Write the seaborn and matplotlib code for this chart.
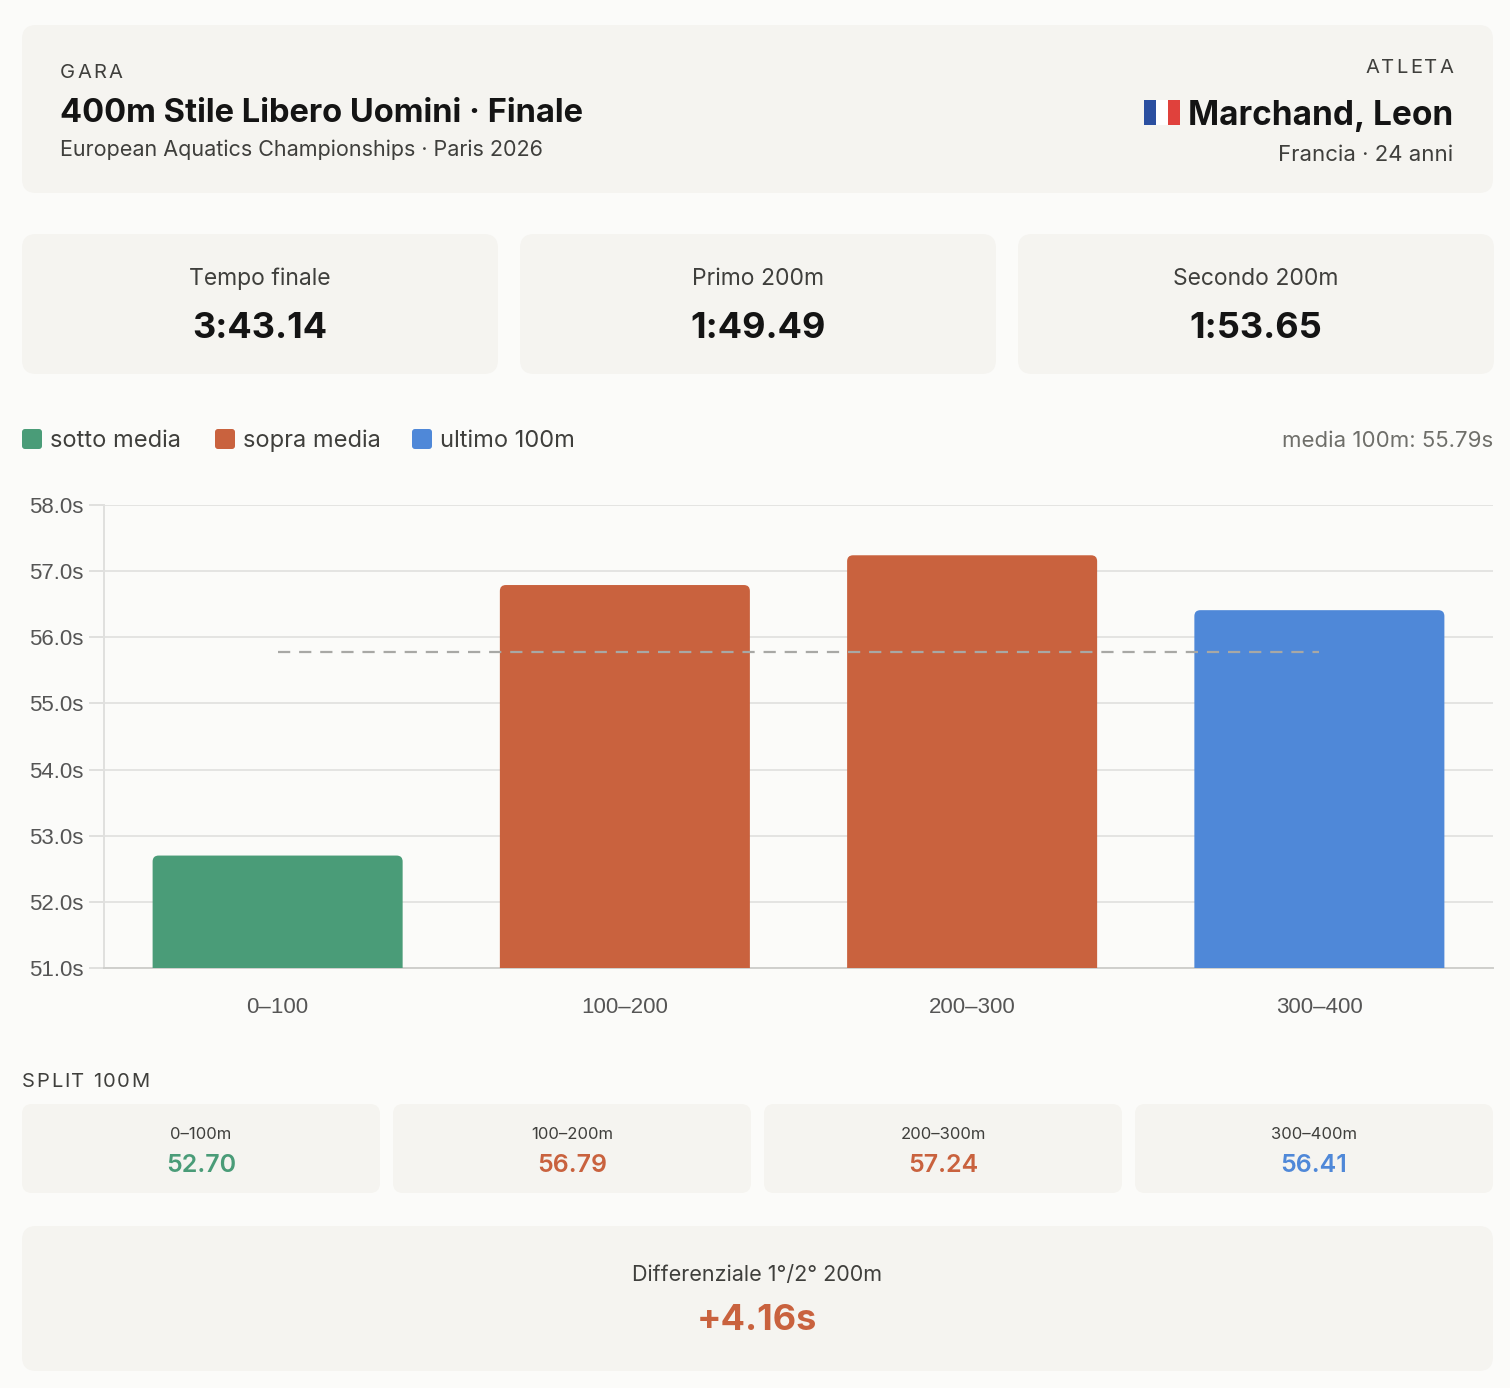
import numpy as np
import pandas as pd
import matplotlib
matplotlib.use("Agg")
import matplotlib.pyplot as plt
from matplotlib.patches import FancyBboxPatch, Rectangle
import seaborn as sns

# dati della gara
tratti = ["0–100", "100–200", "200–300", "300–400"]
tratti_card = ["0–100m", "100–200m", "200–300m", "300–400m"]
split = [52.70, 56.79, 57.24, 56.41]
tipo = ["sotto media", "sopra media", "sopra media", "ultimo 100m"]
y_ticks = [51.0, 52.0, 53.0, 54.0, 55.0, 56.0, 57.0, 58.0]

palette = {"sotto media": "#4a9c78", "sopra media": "#c9623e", "ultimo 100m": "#4f88d8"}
BG = "#fbfbf9"
CARD = "#f5f4f0"
DARK = "#141414"
MID = "#3f3f3c"
GREY = "#6f6f6a"

sns.set_theme(style="white")
plt.rcParams["font.family"] = ["Inter", "DejaVu Sans"]

df = pd.DataFrame({"tratto": tratti, "tempo": split, "tipo": tipo})
media = np.mean(split)
totale = sum(split)
primo = split[0] + split[1]
secondo = split[2] + split[3]


def fmt_min(s):
    m = int(s // 60)
    return "%d:%05.2f" % (m, s - 60 * m)


W, H = 1510, 1388
fig = plt.figure(figsize=(W / 100, H / 100), dpi=100, facecolor=BG)
renderer = fig.canvas.get_renderer()

# layer di sfondo in coordinate pixel
bg = fig.add_axes([0, 0, 1, 1], zorder=0)
bg.set_xlim(0, W)
bg.set_ylim(H, 0)
bg.axis("off")


def card(x0, y0, x1, y1, r=14):
    bg.add_patch(FancyBboxPatch((x0 + r, y0 + r), x1 - x0 - 2 * r, y1 - y0 - 2 * r,
                                boxstyle="round,pad=%d,rounding_size=%d" % (r, r),
                                fc=CARD, ec="none"))


def txt(x, y, s, size, color=MID, weight="normal", ha="left", **kw):
    return bg.text(x, y, s, fontsize=size, color=color, fontweight=weight, ha=ha,
                   va="baseline", **kw)


def spaced(x, y, s, size, track, color=MID, ha="left"):
    # testo con spaziatura tra lettere
    widths = []
    for ch in s:
        t = txt(0, y, ch, size, color)
        widths.append(t.get_window_extent(renderer).width)
        t.remove()
    total = sum(widths) + track * (len(s) - 1)
    cx = x - total if ha == "right" else x
    for ch, w in zip(s, widths):
        txt(cx, y, ch, size, color)
        cx += w + track


# intestazione
card(22, 25, 1493, 193)
spaced(60, 78, "GARA", 14.5, 2.2)
txt(60, 122, "400m Stile Libero Uomini · Finale", 23.5, DARK, "bold")
txt(60, 156, "European Aquatics Championships · Paris 2026", 15.5, MID)
spaced(1453, 73, "ATLETA", 14.5, 2.0, ha="right")
txt(1453, 125, "Marchand, Leon", 24, DARK, "bold", ha="right")
txt(1453, 161, "Francia · 24 anni", 16, MID, ha="right")
for i, c in enumerate(["#2b4fa0", "#ffffff", "#e0413c"]):
    bg.add_patch(Rectangle((1144 + i * 12, 100), 12, 25, fc=c, ec="none"))

# tre riquadri tempi
stats = [("Tempo finale", fmt_min(totale)), ("Primo 200m", fmt_min(primo)),
         ("Secondo 200m", fmt_min(secondo))]
for i, (lab, val) in enumerate(stats):
    x0 = 22 + i * 498
    card(x0, 234, x0 + 476, 374)
    cx = x0 + 238
    txt(cx, 285, lab, 16.5, MID, ha="center")
    txt(cx, 338, val, 26, DARK, "bold", ha="center")

# legenda
for x, lab in zip([22, 215, 412], ["sotto media", "sopra media", "ultimo 100m"]):
    bg.add_patch(FancyBboxPatch((x + 3, 429 + 3), 14, 14,
                                boxstyle="round,pad=3,rounding_size=3",
                                fc=palette[lab], ec="none"))
    txt(x + 28, 447, lab, 17, MID)
txt(1493, 447, "media 100m: %.2fs" % media, 16, GREY, ha="right")

# grafico a barre
ax_l, ax_r, ax_t, ax_b = 104, 1493, 505, 968
ax = fig.add_axes([ax_l / W, (H - ax_b) / H, (ax_r - ax_l) / W, (ax_b - ax_t) / H], zorder=1)
ax.set_facecolor("none")
sns.barplot(data=df, x="tratto", y="tempo", hue="tipo", palette=palette,
            dodge=False, width=0.72, saturation=1, legend=False, ax=ax, zorder=3)

# angoli arrotondati sulle barre
px_x = (ax_r - ax_l) / 4.0
px_y = (ax_b - ax_t) / 7.0
rad = 6 / px_x
for p in list(ax.patches):
    x, y, w, h = p.get_x(), p.get_y(), p.get_width(), p.get_height()
    fc = p.get_facecolor()
    p.remove()
    ax.add_patch(FancyBboxPatch((x, y), w, h,
                                boxstyle="round,pad=0,rounding_size=%f" % rad,
                                mutation_aspect=px_x / px_y, fc=fc, ec="none", zorder=3))

ax.plot([0, len(tratti) - 1], [media, media], color="#a8a8a5", lw=1.6,
        dashes=(5.5, 4), zorder=4)

ax.set_xlim(-0.5, len(tratti) - 0.5)
ax.set_ylim(y_ticks[0], y_ticks[-1])
ax.set_yticks(y_ticks)
ax.set_yticklabels(["%.1fs" % v for v in y_ticks])
ax.yaxis.grid(True, color="#e4e4e2", lw=1.4, zorder=0)
ax.xaxis.grid(False)
ax.set_xlabel("")
ax.set_ylabel("")
for s in ["top", "right"]:
    ax.spines[s].set_visible(False)
ax.spines["left"].set_color("#e0e0de")
ax.spines["left"].set_linewidth(1.4)
ax.spines["bottom"].set_color("#cfcfcc")
ax.spines["bottom"].set_linewidth(1.4)
ax.tick_params(axis="y", length=11, width=1.4, color="#e0e0de", pad=4,
               labelsize=16, labelcolor="#555555", left=True)
ax.tick_params(axis="x", length=0, pad=21, labelsize=16, labelcolor="#555555")
for t in ax.get_xticklabels() + ax.get_yticklabels():
    t.set_fontfamily(["Liberation Sans", "DejaVu Sans"])

# split 100m
spaced(22, 1087, "SPLIT 100M", 14.5, 1.6)
for i, (lab, val, tp) in enumerate(zip(tratti_card, split, tipo)):
    x0 = 22 + i * 371
    card(x0, 1104, x0 + 358, 1193, r=10)
    cx = x0 + 179
    txt(cx, 1139, lab, 12, MID, ha="center")
    txt(cx, 1172, "%.2f" % val, 18, palette[tp], "semibold", ha="center")

# differenziale
card(22, 1226, 1493, 1371)
txt(757, 1281, "Differenziale 1°/2° 200m", 15.5, MID, ha="center")
txt(757, 1330, "%+.2fs" % (secondo - primo), 26, palette["sopra media"], "bold", ha="center")

fig.savefig("out.png", dpi=100, facecolor=BG)
